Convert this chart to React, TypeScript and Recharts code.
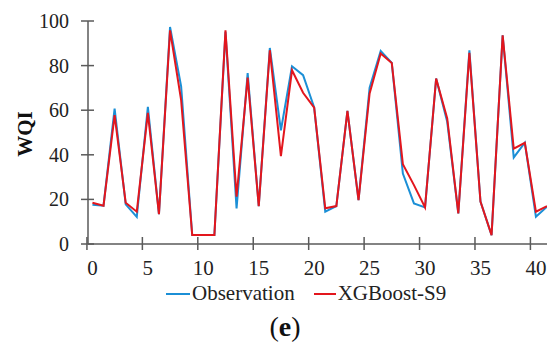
import React from 'react';
import { LineChart, Line, XAxis, YAxis, Label } from 'recharts';

// sample number along the x axis
const sampleIndex = [
  0, 1, 2, 3, 4, 5, 6, 7, 8, 9, 10, 11, 12, 13, 14, 15, 16, 17, 18, 19, 20,
  21, 22, 23, 24, 25, 26, 27, 28, 29, 30, 31, 32, 33, 34, 35, 36, 37, 38, 39, 40, 41,
];

const observation = [
  17.6, 17.2, 60.7, 17.8, 12.2, 61.5, 13.4, 97.3, 70.7, 4, 4, 4, 95.2, 16, 76.7, 17, 87.9, 51, 79.7, 75.7, 61.2,
  14.5, 17, 59.7, 19.7, 70.1, 86.6, 81.2, 31.6, 18.2, 16.4, 74.2, 54.8, 13.7, 86.9, 19, 4, 93.6, 38.8, 45.4, 12.2, 16.7,
];

const xgboostS9 = [
  18.5, 17.2, 57.8, 18.5, 14.5, 58.8, 13.4, 95.8, 64.5, 4, 4, 4, 95.8, 21.2, 74.6, 17, 86.9, 39.4, 77.9, 67.8, 61.2,
  16, 17, 59.7, 19.7, 67.5, 85.4, 81.2, 35.8, 26.4, 16.4, 74.2, 56.3, 13.7, 85.7, 19, 4, 93.6, 42.8, 45.4, 14.5, 17,
];

const xTicks = [0, 5, 10, 15, 20, 25, 30, 35, 40];
const yTicks = [0, 20, 40, 60, 80, 100];

const chartData = sampleIndex.map((idx, i) => ({
  idx,
  observation: observation[i],
  xgboost: xgboostS9[i],
}));

const FONT = '"Liberation Serif", "Times New Roman", serif';
const AXIS = '#5a5a5a';
const BLUE = '#1b8fd6';
const RED = '#e3161d';

// tick marks sit half a step left of the labels, crossing the axis
const XTick = ({ x, y, payload }: any) => (
  <g>
    <line x1={x - 5.5} x2={x - 5.5} y1={y - 7} y2={y + 6} stroke={AXIS} strokeWidth={1.5} />
    <text x={x} y={y + 24} textAnchor="middle" dominantBaseline="central" fontFamily={FONT} fontSize={21} fill="#222">
      {payload.value}
    </text>
  </g>
);

const YTick = ({ x, y, payload }: any) => (
  <g>
    <line x1={x - 7} x2={x + 6} y1={y} y2={y} stroke={AXIS} strokeWidth={1.5} />
    <text x={x - 19} y={y} textAnchor="end" dominantBaseline="central" fontFamily={FONT} fontSize={20} fill="#222">
      {payload.value}
    </text>
  </g>
);

export default function App() {
  return (
    <div style={{ position: 'absolute', left: 0, top: 0, width: 547, height: 352, background: '#fff' }}>
      <LineChart width={547} height={352} data={chartData} margin={{ top: 21, right: 0, left: 0, bottom: 0 }}>
        <XAxis
          dataKey="idx"
          type="number"
          domain={[-0.4, 41]}
          ticks={xTicks}
          interval={0}
          allowDataOverflow
          height={108}
          axisLine={{ stroke: AXIS, strokeWidth: 1.5 }}
          tickLine={false}
          tickSize={0}
          tickMargin={0}
          tick={<XTick />}
        />
        <YAxis
          type="number"
          domain={[0, 100]}
          ticks={yTicks}
          width={88}
          axisLine={{ stroke: AXIS, strokeWidth: 1.5 }}
          tickLine={false}
          tickSize={0}
          tickMargin={0}
          tick={<YTick />}
        >
          <Label
            content={() => (
              <text
                x={25}
                y={134}
                transform="rotate(-90 25 134)"
                textAnchor="middle"
                dominantBaseline="central"
                fontFamily={FONT}
                fontWeight="bold"
                fontSize={21}
                fill="#111"
              >
                WQI
              </text>
            )}
          />
        </YAxis>
        <Line dataKey="observation" stroke={BLUE} strokeWidth={2} dot={false} isAnimationActive={false} />
        <Line dataKey="xgboost" stroke={RED} strokeWidth={2} dot={false} isAnimationActive={false} />
      </LineChart>
      <div
        style={{
          position: 'absolute',
          left: 166,
          top: 281,
          display: 'flex',
          alignItems: 'center',
          fontFamily: FONT,
          fontSize: 21,
          color: '#222',
          whiteSpace: 'nowrap',
        }}
      >
        <span style={{ display: 'inline-block', width: 24, height: 2, background: BLUE, marginRight: 2 }} />
        <span>Observation</span>
        <span style={{ display: 'inline-block', width: 22, height: 2, background: RED, marginLeft: 19, marginRight: 2 }} />
        <span>XGBoost-S9</span>
      </div>
      <div
        style={{
          position: 'absolute',
          left: 0,
          width: 547,
          top: 311,
          textAlign: 'center',
          fontFamily: FONT,
          fontSize: 28,
          color: '#111',
          paddingLeft: 23,
          boxSizing: 'border-box',
        }}
      >
        (<b>e</b>)
      </div>
    </div>
  );
}
